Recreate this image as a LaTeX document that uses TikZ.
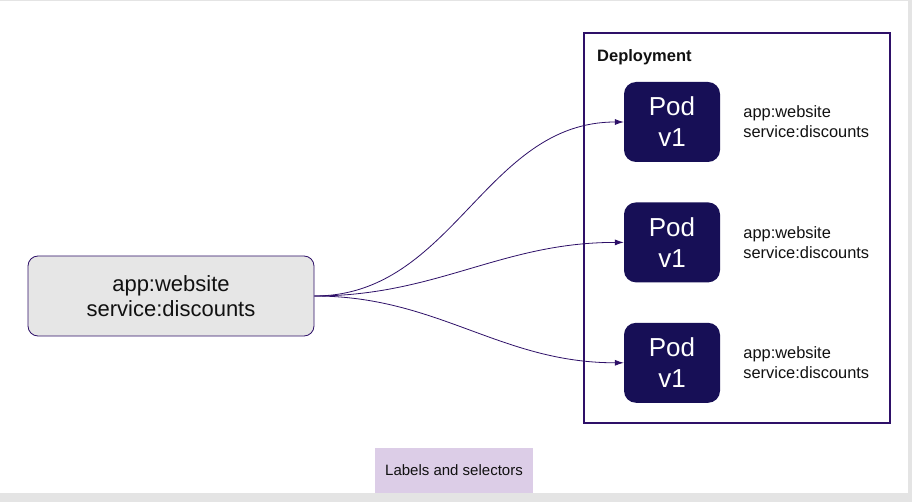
\documentclass[tikz,border=0pt]{standalone}
\usepackage{fontspec}
\setmainfont{Liberation Sans}
\usetikzlibrary{arrows.meta,positioning}
\definecolor{podnavy}{HTML}{170F56}
\definecolor{linepurple}{HTML}{2E1068}
\definecolor{selgray}{HTML}{E6E6E6}
\definecolor{captionlilac}{HTML}{DCCDE7}
\definecolor{pagegray}{HTML}{E4E4E4}
\definecolor{textdark}{HTML}{111111}
\tikzset{
  >=Latex,
  selector/.style={
    rectangle, rounded corners=10pt, draw=linepurple, line width=0.8pt,
    fill=selgray, minimum width=286pt, minimum height=80pt, align=center,
    font=\fontsize{22}{25}\selectfont, text=textdark
  },
  pod/.style={
    rectangle, rounded corners=12pt, fill=podnavy, minimum width=96pt,
    minimum height=80pt, align=center, text=white,
    font=\fontsize{26}{31}\selectfont
  },
  tags/.style={align=left, inner sep=0pt, font=\fontsize{16.4}{20}\selectfont, text=textdark},
  deploybox/.style={rectangle, draw=linepurple, line width=1.1pt, minimum width=306pt, minimum height=390pt},
  deploytitle/.style={font=\bfseries\fontsize{16.5}{19}\selectfont, text=textdark, inner sep=0pt},
  caption/.style={rectangle, fill=captionlilac, minimum width=158pt, minimum height=45pt,
    font=\fontsize{15}{18}\selectfont, text=textdark},
  link/.style={-{Latex[length=9pt,width=6pt]}, line width=0.8pt, draw=linepurple}
}

\begin{document}
\begin{tikzpicture}[x=1pt, y=-1pt, node distance=40pt]
\useasboundingbox (0,0) rectangle (912,502);
\fill[pagegray] (0,0) rectangle (912,502);
\fill[white] (0,1) rectangle (908,493);
% deployment frame
\node[deploybox] (deploy) at (737,228) {};
\node[deploytitle, anchor=west] (title) at (597,57) {Deployment};
% pods and their labels
\node[pod] (pod1) at (672,122) {Pod\\v1};
\node[pod, below=of pod1] (pod2) {Pod\\v1};
\node[pod, below=of pod2] (pod3) {Pod\\v1};
\node[tags, right=23pt of pod1] (tags1) {app:website\\service:discounts};
\node[tags, right=23pt of pod2] (tags2) {app:website\\service:discounts};
\node[tags, right=23pt of pod3] (tags3) {app:website\\service:discounts};
% selector
\node[selector] (sel) at (171,296) {app:website\\service:discounts};
\draw[link] (sel.east) to[out=0, in=180] (pod1.west);
\draw[link] (sel.east) to[out=0, in=180] (pod2.west);
\draw[link] (sel.east) to[out=0, in=180] (pod3.west);
\node[caption] (cap) at (454,470.5) {Labels and selectors};
\end{tikzpicture}
\end{document}
